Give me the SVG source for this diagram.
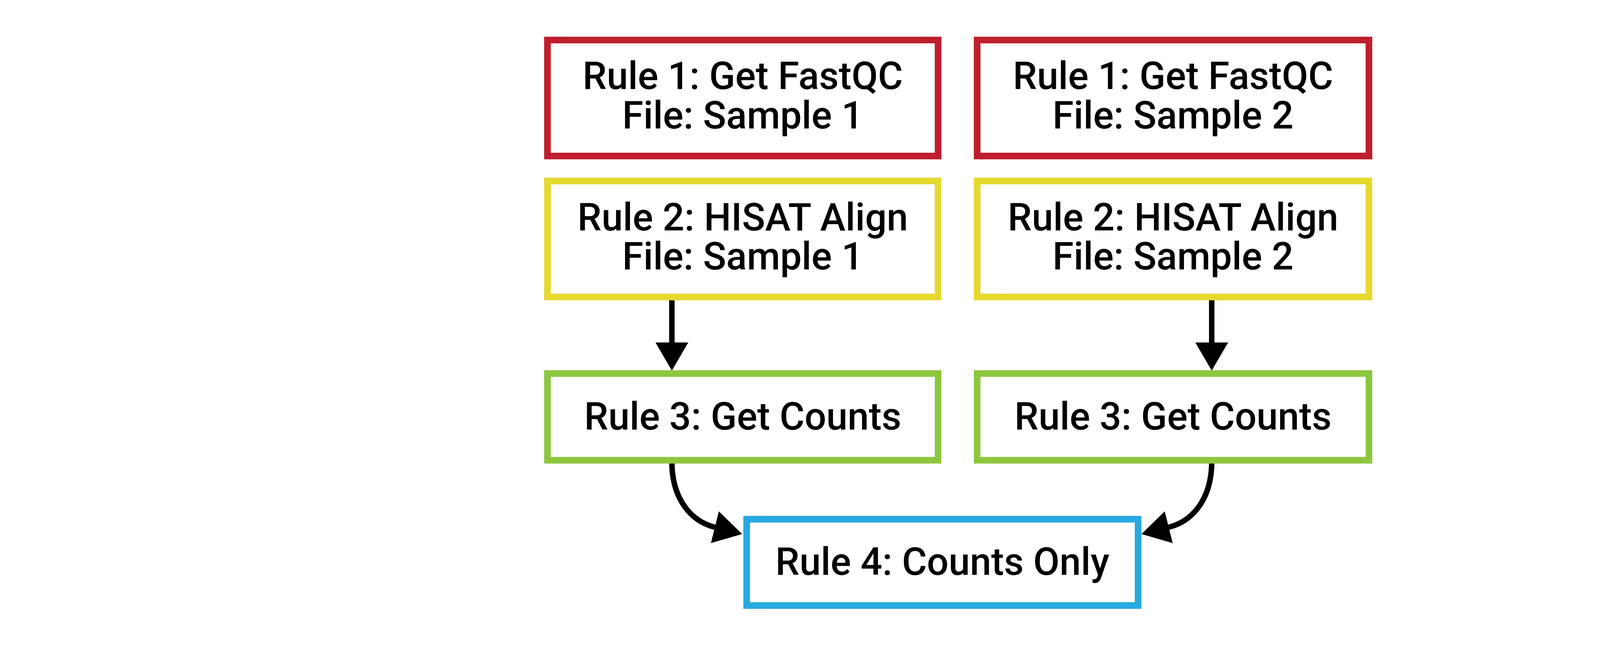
<svg xmlns="http://www.w3.org/2000/svg" width="4880" height="1667" viewBox="0 0 4880 1667">
<style>
.box{fill:#fff;stroke-width:17}
.r1{stroke:#BE1E2D}
.r2{stroke:#E5D82F}
.r3{stroke:#8DC63F}
.r4{stroke:#27AAE1}
.t{font-family:Roboto,"Liberation Sans",Arial,sans-serif;font-weight:500;font-size:98px;fill:#000;text-anchor:middle}
.c{fill:none;stroke:#000;stroke-width:14}
</style>
<defs>
<marker id="ah" markerUnits="userSpaceOnUse" markerWidth="80" markerHeight="90" refX="0" refY="42" orient="auto" viewBox="0 0 80 90">
<path d="M0,0 L72,42 L0,84 Z" fill="#000"/>
</marker>
</defs>
<rect width="4880" height="1667" fill="#fff"/>
<g id="connectors">
<path class="c" d="M1720,769 L1720,877" marker-end="url(#ah)"/>
<path class="c" d="M3102,769 L3102,877" marker-end="url(#ah)"/>
<path class="c" d="M1720,1187 C1722,1280 1770,1335 1830,1350" marker-end="url(#ah)"/>
<path class="c" d="M3102,1187 C3100,1280 3052,1335 2992,1350" marker-end="url(#ah)"/>
</g>
<g id="r1s1">
<rect class="box r1" x="1401.5" y="102.5" width="1000" height="297"/>
<text class="t" x="1901.5" y="228">Rule 1: Get FastQC</text>
<text class="t" x="1901.5" y="329">File: Sample 1</text>
</g>
<g id="r1s2">
<rect class="box r1" x="2501.5" y="102.5" width="1003" height="297"/>
<text class="t" x="3003" y="228">Rule 1: Get FastQC</text>
<text class="t" x="3003" y="329">File: Sample 2</text>
</g>
<g id="r2s1">
<rect class="box r2" x="1401.5" y="463.5" width="1000" height="297"/>
<text class="t" x="1901.5" y="590">Rule 2: HISAT Align</text>
<text class="t" x="1901.5" y="690">File: Sample 1</text>
</g>
<g id="r2s2">
<rect class="box r2" x="2501.5" y="463.5" width="1003" height="297"/>
<text class="t" x="3003" y="590">Rule 2: HISAT Align</text>
<text class="t" x="3003" y="690">File: Sample 2</text>
</g>
<g id="r3s1">
<rect class="box r3" x="1401.5" y="956.5" width="1000" height="222"/>
<text class="t" x="1901.5" y="1100">Rule 3: Get Counts</text>
</g>
<g id="r3s2">
<rect class="box r3" x="2501.5" y="956.5" width="1003" height="222"/>
<text class="t" x="3003" y="1100">Rule 3: Get Counts</text>
</g>
<g id="r4">
<rect class="box r4" x="1911.5" y="1329.5" width="1002" height="221"/>
<text class="t" x="2412.5" y="1472">Rule 4: Counts Only</text>
</g>
</svg>
